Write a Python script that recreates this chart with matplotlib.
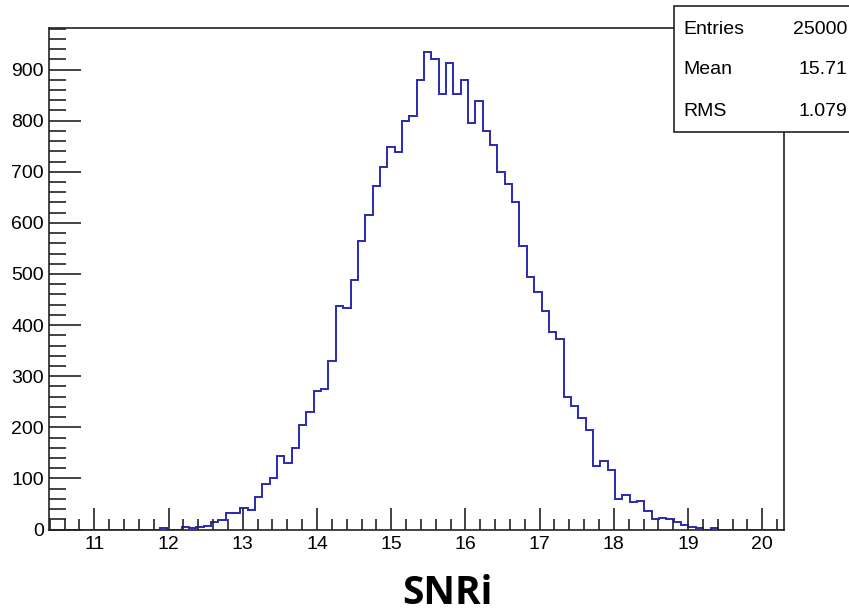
import numpy as np
import matplotlib
matplotlib.use("Agg")
from matplotlib import pyplot as plt
from matplotlib.ticker import MultipleLocator

# histogram de SNRi, 100 bins
xmin = 10.394
xmax = 20.292
counts = [0, 0, 0, 0, 0, 0, 0, 0, 0, 0,
          0, 0, 0, 0, 0, 2, 0, 0, 5, 2,
          5, 7, 15, 18, 33, 33, 42, 39, 64, 90,
          100, 144, 131, 159, 204, 229, 271, 275, 330, 438,
          433, 489, 564, 615, 672, 710, 748, 738, 800, 810,
          880, 934, 921, 852, 913, 852, 880, 796, 839, 780,
          753, 700, 676, 640, 555, 494, 465, 427, 386, 373,
          260, 242, 219, 195, 124, 134, 117, 60, 67, 54,
          56, 36, 21, 23, 20, 15, 8, 5, 2, 0,
          2, 0, 0, 0, 0, 0, 0, 0, 0, 0]
stat_names = ["Entries", "Mean", "RMS"]
stat_vals = ["25000", "15.71", "1.079"]

edges = np.linspace(xmin, xmax, len(counts) + 1)

plt.rcParams['font.family'] = ['Liberation Sans', 'DejaVu Sans']

fig = plt.figure(figsize=(8.49, 6.14), dpi=100)
ax = fig.add_axes([0.0581, 0.1376, 0.8653, 0.8163])
ax.stairs(counts, edges, color="#2a2ab4", linewidth=1.4)

ax.set_xlim(xmin, xmax)
ax.set_ylim(0, 1.05 * max(counts))
ax.xaxis.set_major_locator(MultipleLocator(1))
ax.xaxis.set_minor_locator(MultipleLocator(0.2))
ax.yaxis.set_major_locator(MultipleLocator(100))
ax.yaxis.set_minor_locator(MultipleLocator(20))
ax.tick_params(which="both", direction="in", top=False, right=False,
               width=1.2, color="#222222")
ax.tick_params(axis="x", which="major", length=16, labelsize=14, pad=5)
ax.tick_params(axis="x", which="minor", length=8)
ax.tick_params(axis="y", which="major", length=23, labelsize=14, pad=4)
ax.tick_params(axis="y", which="minor", length=12)
for s in ax.spines.values():
    s.set_linewidth(1.2)
    s.set_color("#222222")

# titulo del eje x, centrado como en la figura original
fig.text(447 / 849, 1 - 604 / 614, "SNRi", fontsize=28, fontweight="bold",
         family="Open Sans", ha="center", va="baseline")

# stats box (ROOT style), cortado a la derecha
box = plt.Rectangle((674 / 849, 1 - 132 / 614), 0.3, 126 / 614,
                    transform=fig.transFigure, facecolor="white",
                    edgecolor="#222222", linewidth=1.2, zorder=5)
fig.patches.append(box)
for i in range(3):
    yy = 1 - (29 + 41 * i) / 614
    fig.text(683 / 849, yy, stat_names[i], fontsize=14, va="center",
             ha="left", zorder=6)
    fig.text(847 / 849, yy, stat_vals[i], fontsize=14, va="center",
             ha="right", zorder=6)

fig.savefig("out.png", dpi=100)
